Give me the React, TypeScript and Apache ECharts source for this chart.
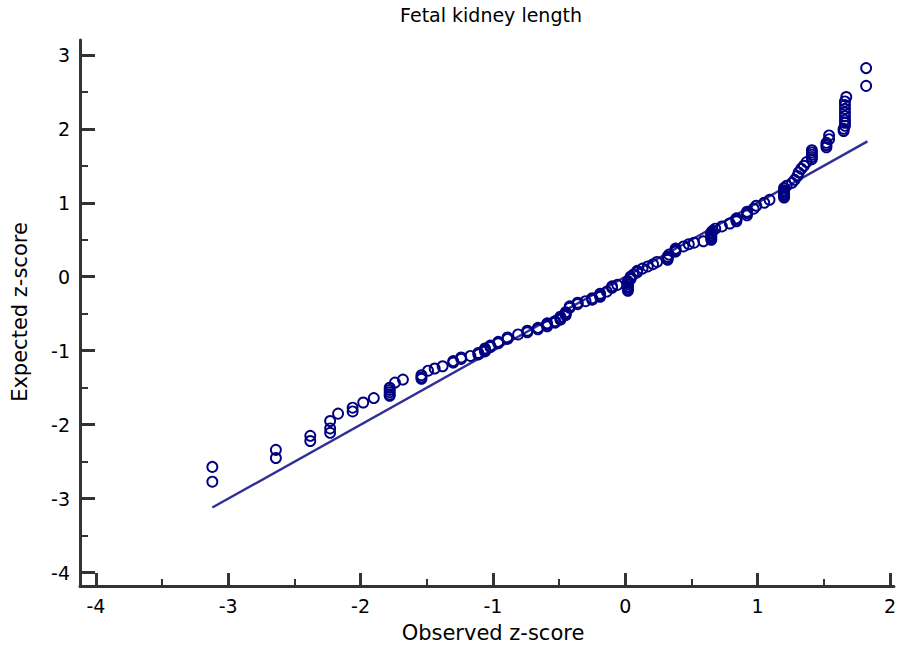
import React, { useEffect, useRef } from "react";
import * as echarts from "echarts";

const titleText = "Fetal kidney length";
const xName = "Observed z-score";
const yName = "Expected z-score";

const xMajorTicks = [-4, -3, -2, -1, 0, 1, 2];
const xMinorTicks = [-3.5, -2.5, -1.5, -0.5, 0.5, 1.5];
const yMajorTicks = [-4, -3, -2, -1, 0, 1, 2, 3];
const yMinorTicks = [-3.5, -2.5, -1.5, -0.5, 0.5, 1.5, 2.5];

// observed z-score (rows aligned with `expected`)
const observed = [
  -3.12, -3.12, -2.64, -2.64, -2.38, -2.38, -2.23, -2.23, -2.23, -2.17,
  -2.06, -2.06, -1.98, -1.9, -1.78, -1.78, -1.78, -1.78, -1.78, -1.74,
  -1.68, -1.54, -1.54, -1.54, -1.49, -1.44, -1.38,
  -1.3, -1.3, -1.24, -1.24, -1.17, -1.11, -1.11, -1.06, -1.06, -1.06,
  -1.02, -1.02, -0.96, -0.96, -0.89, -0.89, -0.81, -0.74, -0.74, -0.66, -0.66,
  -0.59, -0.59, -0.59, -0.53, -0.53, -0.49, -0.49, -0.49, -0.45, -0.45, -0.45,
  -0.42, -0.42, -0.36, -0.36, -0.3, -0.25, -0.25, -0.19, -0.19, -0.19,
  -0.14, -0.1, -0.1, -0.06,
  0.02, 0.02, 0.02, 0.02, 0.02, 0.02, 0.02, 0.04, 0.04, 0.06,
  0.09, 0.09, 0.13, 0.17, 0.21, 0.24,
  0.32, 0.32, 0.32, 0.33, 0.38, 0.38, 0.38, 0.44, 0.48, 0.52, 0.59,
  0.65, 0.65, 0.65, 0.65, 0.65, 0.65, 0.66, 0.68, 0.73, 0.79,
  0.84, 0.84, 0.84, 0.92, 0.92, 0.92, 0.97, 0.99, 1.05, 1.09,
  1.2, 1.2, 1.2, 1.2, 1.2, 1.2, 1.2,
  1.22, 1.26, 1.28, 1.3, 1.31, 1.33, 1.35, 1.37,
  1.41, 1.41, 1.41, 1.41, 1.41,
  1.52, 1.52, 1.52, 1.54, 1.54,
  1.65, 1.65, 1.66, 1.66, 1.66, 1.66, 1.66, 1.66, 1.66, 1.66, 1.67,
  1.82, 1.82,
];
// expected z-score
const expected = [
  -2.77, -2.57, -2.45, -2.34, -2.22, -2.15, -2.11, -2.05, -1.95, -1.85,
  -1.82, -1.77, -1.7, -1.64, -1.61, -1.59, -1.56, -1.53, -1.5, -1.43,
  -1.39, -1.38, -1.36, -1.33, -1.27, -1.24, -1.21,
  -1.16, -1.14, -1.11, -1.09, -1.07, -1.05, -1.03, -1.01, -0.99, -0.97,
  -0.95, -0.93, -0.9, -0.88, -0.84, -0.82, -0.78, -0.75, -0.73, -0.71, -0.69,
  -0.67, -0.65, -0.63, -0.62, -0.6, -0.58, -0.56, -0.54, -0.52, -0.5, -0.48,
  -0.42, -0.4, -0.37, -0.35, -0.33, -0.31, -0.29, -0.27, -0.25, -0.23,
  -0.2, -0.15, -0.13, -0.11,
  -0.19, -0.17, -0.15, -0.13, -0.1, -0.08, -0.06, -0.03, 0.0, 0.03,
  0.06, 0.08, 0.11, 0.14, 0.17, 0.2,
  0.23, 0.25, 0.27, 0.3, 0.34, 0.36, 0.38, 0.41, 0.44, 0.46, 0.48,
  0.5, 0.52, 0.54, 0.56, 0.58, 0.6, 0.62, 0.65, 0.68, 0.72,
  0.75, 0.77, 0.79, 0.83, 0.86, 0.88, 0.92, 0.96, 1.0, 1.04,
  1.07, 1.09, 1.11, 1.13, 1.15, 1.17, 1.2,
  1.23, 1.27, 1.31, 1.36, 1.41, 1.46, 1.5, 1.55,
  1.59, 1.62, 1.65, 1.68, 1.71,
  1.75, 1.78, 1.81, 1.86, 1.91,
  1.97, 2.0, 2.04, 2.08, 2.12, 2.17, 2.22, 2.27, 2.32, 2.37, 2.43,
  2.58, 2.82,
];
// reference line endpoints (observed = expected)
const lineX = [-3.12, 1.83];
const lineY = [-3.12, 1.83];

const FONT = "DejaVu Sans";
const AXIS_COLOR = "#333333";

export default function App() {
  const ref = useRef<HTMLDivElement>(null);
  useEffect(() => {
    if (!ref.current) return;
    const chart = echarts.init(ref.current, undefined, { renderer: "svg" });
    const pts = observed.map((x, i) => [x, expected[i]]);
    const line = lineX.map((x, i) => [x, lineY[i]]);
    const labelStyle = { fontSize: 19, fontFamily: FONT, color: "#000" };
    chart.setOption({
      animation: false,
      backgroundColor: "#ffffff",
      grid: { left: 80, top: 40, width: 817, height: 546, containLabel: false },
      xAxis: [
        {
          type: "value",
          min: -4.12,
          max: 2.03,
          position: "bottom",
          axisLine: { show: true, onZero: false, lineStyle: { color: AXIS_COLOR, width: 3 } },
          axisTick: { show: true, inside: true, length: 13, customValues: xMajorTicks, lineStyle: { color: AXIS_COLOR, width: 3 } },
          axisLabel: { show: true, customValues: xMajorTicks, margin: 10, ...labelStyle },
          splitLine: { show: false },
        },
        {
          type: "value",
          min: -4.12,
          max: 2.03,
          position: "bottom",
          axisLine: { show: false, onZero: false },
          axisTick: { show: true, inside: true, length: 7, customValues: xMinorTicks, lineStyle: { color: AXIS_COLOR, width: 2 } },
          axisLabel: { show: false },
          splitLine: { show: false },
        },
      ],
      yAxis: [
        {
          type: "value",
          min: -4.18,
          max: 3.2,
          position: "left",
          axisLine: { show: true, onZero: false, lineStyle: { color: AXIS_COLOR, width: 3 } },
          axisTick: { show: true, inside: true, length: 15, customValues: yMajorTicks, lineStyle: { color: AXIS_COLOR, width: 3 } },
          axisLabel: { show: true, customValues: yMajorTicks, margin: 10, ...labelStyle },
          splitLine: { show: false },
        },
        {
          type: "value",
          min: -4.18,
          max: 3.2,
          position: "left",
          axisLine: { show: false, onZero: false },
          axisTick: { show: true, inside: true, length: 8, customValues: yMinorTicks, lineStyle: { color: AXIS_COLOR, width: 2 } },
          axisLabel: { show: false },
          splitLine: { show: false },
        },
      ],
      graphic: [
        {
          type: "text",
          x: 491,
          y: 15,
          style: { text: titleText, fontSize: 19, fontFamily: FONT, fill: "#000", align: "center", verticalAlign: "middle" },
        },
        {
          type: "text",
          x: 493,
          y: 633,
          style: { text: xName, fontSize: 21, fontFamily: FONT, fill: "#000", align: "center", verticalAlign: "middle" },
        },
        {
          type: "text",
          x: 20,
          y: 312,
          rotation: Math.PI / 2,
          style: { text: yName, fontSize: 21, fontFamily: FONT, fill: "#000", align: "center", verticalAlign: "middle" },
        },
      ],
      series: [
        {
          type: "line",
          xAxisIndex: 0,
          yAxisIndex: 0,
          data: line,
          showSymbol: false,
          symbol: "none",
          lineStyle: { color: "#2f2f96", width: 2.4 },
          silent: true,
          z: 2,
        },
        {
          type: "scatter",
          xAxisIndex: 0,
          yAxisIndex: 0,
          data: pts,
          symbol: "circle",
          symbolSize: 10,
          itemStyle: { color: "rgba(255,255,255,0)", borderColor: "#000080", borderWidth: 1.9, opacity: 1 },
          z: 3,
        },
      ],
    });
    return () => chart.dispose();
  }, []);
  return (
    <div
      ref={ref}
      style={{ position: "absolute", left: 0, top: 0, width: 899, height: 647, background: "#fff" }}
    />
  );
}
